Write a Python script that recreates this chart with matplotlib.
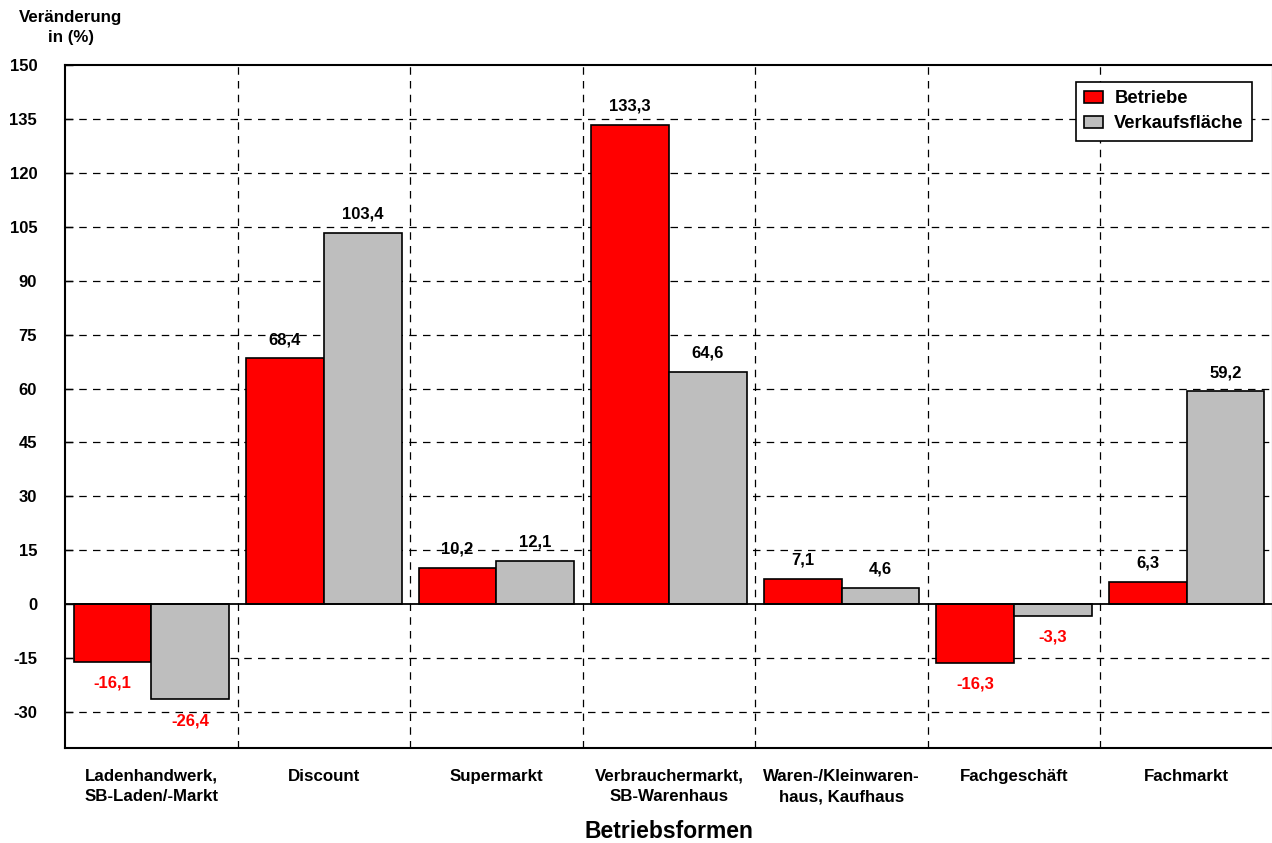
import matplotlib
matplotlib.use("Agg")
import matplotlib.pyplot as plt
import numpy as np

categories = ["Ladenhandwerk,\nSB-Laden/-Markt", "Discount", "Supermarkt",
              "Verbrauchermarkt,\nSB-Warenhaus", "Waren-/Kleinwaren-\nhaus, Kaufhaus",
              "Fachgeschäft", "Fachmarkt"]
betriebe = [-16.1, 68.4, 10.2, 133.3, 7.1, -16.3, 6.3]
verkaufsflaeche = [-26.4, 103.4, 12.1, 64.6, 4.6, -3.3, 59.2]
yticks = [-30, -15, 0, 15, 30, 45, 60, 75, 90, 105, 120, 135, 150]

plt.rcParams['font.family'] = ['Liberation Sans', 'DejaVu Sans']
plt.rcParams['font.weight'] = 'bold'

fig = plt.figure(figsize=(12.72, 8.43), dpi=100)
ax = fig.add_axes([65/1272, 1-748/843, (1273-65)/1272, (748-65)/843])

x = np.arange(len(categories))
w = 0.45
b1 = ax.bar(x - w/2, betriebe, w, color='#ff0000', edgecolor='black', linewidth=1.2, label='Betriebe', zorder=3)
b2 = ax.bar(x + w/2, verkaufsflaeche, w, color='#bebebe', edgecolor='black', linewidth=1.2, label='Verkaufsfläche', zorder=3)

def fmt(v):
    return f"{v:.1f}".replace('.', ',')

for bars, vals in ((b1, betriebe), (b2, verkaufsflaeche)):
    for rect, v in zip(bars, vals):
        cx = rect.get_x() + rect.get_width()/2
        if v >= 0:
            ax.annotate(fmt(v), (cx, v), xytext=(0, 8), textcoords='offset points',
                        ha='center', va='bottom', fontsize=12, fontweight='bold', color='black', zorder=4)
        else:
            ax.annotate(fmt(v), (cx, v), xytext=(0, -10), textcoords='offset points',
                        ha='center', va='top', fontsize=12, fontweight='bold', color='#ff0000', zorder=4)

ax.set_xlim(-0.5, len(categories) - 0.5)
ax.set_ylim(-40, 150)
ax.set_yticks(yticks)
ax.set_yticklabels([str(t) for t in yticks], fontsize=12, fontweight='bold')
ax.set_xticks(x)
ax.set_xticklabels(categories, fontsize=12.2, fontweight='bold', linespacing=1.45)
ax.tick_params(axis='x', length=0, pad=15)
ax.tick_params(axis='y', direction='in', length=6, width=1, pad=20)

for t in yticks:
    if t not in (0, 150):
        ax.axhline(t, color='black', linestyle=(0, (6, 5)), linewidth=0.9, zorder=1)
for b in np.arange(0.5, len(categories) - 0.5, 1):
    ax.axvline(b, color='black', linestyle=(0, (6, 5)), linewidth=0.9, zorder=1)
ax.axhline(0, color='black', linewidth=1.3, zorder=4)

for s in ax.spines.values():
    s.set_linewidth(1.5)

ax.set_xlabel("Betriebsformen", fontsize=16.5, fontweight='bold', labelpad=11)
fig.text(71/1272, 1-27.5/843, "Veränderung\nin (%)", ha='center', va='center', fontsize=12.2,
         fontweight='bold', linespacing=1.45)

leg = ax.legend(loc='upper right', bbox_to_anchor=(1252/1272, 1-82/843), bbox_transform=fig.transFigure,
                fontsize=13.2, frameon=True, fancybox=False, edgecolor='black', framealpha=1,
                handlelength=1.05, handleheight=0.65, handletextpad=0.6, borderpad=0.45, labelspacing=0.45,
                borderaxespad=0)
leg.get_frame().set_linewidth(1.2)
for t in leg.get_texts():
    t.set_fontweight('bold')

fig.savefig("out.png", dpi=100)
